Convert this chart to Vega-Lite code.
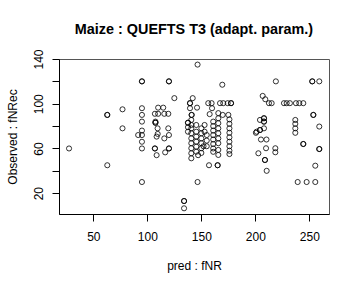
{
  "$schema": "https://vega.github.io/schema/vega-lite/v6.json",
  "width": 270,
  "height": 155,
  "autosize": "none",
  "padding": {"left": 59, "top": 59, "right": 31, "bottom": 74},
  "background": "white",
  "config": {
    "font": "Liberation Sans",
    "view": {"stroke": "#555555", "strokeWidth": 1},
    "axis": {
      "grid": false,
      "domainColor": "black",
      "tickColor": "black",
      "tickSize": 7,
      "labelColor": "black",
      "labelFontSize": 12,
      "titleColor": "black",
      "titleFontSize": 12,
      "titleFontWeight": "normal",
      "labelFont": "Liberation Sans",
      "titleFont": "Liberation Sans"
    }
  },
  "title": {
    "text": "Maize : QUEFTS T3 (adapt. param.)",
    "fontSize": 14.4,
    "fontWeight": "bold",
    "color": "black",
    "font": "Liberation Sans",
    "anchor": "middle",
    "frame": "group",
    "baseline": "alphabetic",
    "offset": 23,
    "dy": 22.5
  },
  "data": {
    "values": [
      {"pred": 27.5, "obs": 60},
      {"pred": 62.9, "obs": 90}, {"pred": 62.9, "obs": 90}, {"pred": 62.9, "obs": 45},
      {"pred": 77, "obs": 95}, {"pred": 77, "obs": 78},
      {"pred": 95, "obs": 120}, {"pred": 95, "obs": 120},
      {"pred": 95, "obs": 96}, {"pred": 95, "obs": 90}, {"pred": 95, "obs": 84}, {"pred": 95, "obs": 76},
      {"pred": 91.5, "obs": 72}, {"pred": 95, "obs": 72}, {"pred": 95, "obs": 66}, {"pred": 95, "obs": 60}, {"pred": 95, "obs": 30},
      {"pred": 110, "obs": 96.5}, {"pred": 114.7, "obs": 96.5},
      {"pred": 107, "obs": 91}, {"pred": 110, "obs": 91}, {"pred": 115.7, "obs": 91}, {"pred": 119.4, "obs": 91},
      {"pred": 107.5, "obs": 84}, {"pred": 107.5, "obs": 83}, {"pred": 107.5, "obs": 83},
      {"pred": 109.5, "obs": 78}, {"pred": 119.4, "obs": 78},
      {"pred": 109.6, "obs": 73}, {"pred": 120, "obs": 72}, {"pred": 115.7, "obs": 69}, {"pred": 108.6, "obs": 70.6},
      {"pred": 107, "obs": 60}, {"pred": 107, "obs": 60}, {"pred": 120, "obs": 60}, {"pred": 120, "obs": 60},
      {"pred": 108.6, "obs": 54}, {"pred": 116.5, "obs": 56.5},
      {"pred": 120, "obs": 120}, {"pred": 120, "obs": 120},
      {"pred": 125, "obs": 105},
      {"pred": 134, "obs": 13}, {"pred": 134, "obs": 13}, {"pred": 134, "obs": 6.5},
      {"pred": 146.5, "obs": 135}, {"pred": 146.5, "obs": 30},
      {"pred": 142, "obs": 105},
      {"pred": 139.5, "obs": 100.5}, {"pred": 139.5, "obs": 100.5},
      {"pred": 139.5, "obs": 96}, {"pred": 146, "obs": 96.5},
      {"pred": 141, "obs": 90}, {"pred": 141, "obs": 90},
      {"pred": 140.7, "obs": 85.5}, {"pred": 140.7, "obs": 81}, {"pred": 140.7, "obs": 78}, {"pred": 140.7, "obs": 73.6},
      {"pred": 140.7, "obs": 69}, {"pred": 140.7, "obs": 64.7}, {"pred": 140.7, "obs": 60.2}, {"pred": 140.7, "obs": 55.7}, {"pred": 140.7, "obs": 51.2},
      {"pred": 137.6, "obs": 83}, {"pred": 137.6, "obs": 83}, {"pred": 137.6, "obs": 79}, {"pred": 137.6, "obs": 75},
      {"pred": 145.3, "obs": 81}, {"pred": 145.3, "obs": 75}, {"pred": 145.3, "obs": 70.6}, {"pred": 145.3, "obs": 66.1},
      {"pred": 145.3, "obs": 61.6}, {"pred": 145.3, "obs": 57.1},
      {"pred": 150, "obs": 78}, {"pred": 150, "obs": 73.6}, {"pred": 150, "obs": 69}, {"pred": 150, "obs": 64.7}, {"pred": 150, "obs": 60.2},
      {"pred": 153, "obs": 81}, {"pred": 153, "obs": 75},
      {"pred": 155, "obs": 72}, {"pred": 155, "obs": 67}, {"pred": 152, "obs": 62}, {"pred": 155, "obs": 62},
      {"pred": 147, "obs": 54}, {"pred": 150, "obs": 56},
      {"pred": 156.4, "obs": 100.5}, {"pred": 159.5, "obs": 100.5},
      {"pred": 157.7, "obs": 90.7}, {"pred": 159.9, "obs": 96},
      {"pred": 161, "obs": 84}, {"pred": 161, "obs": 80}, {"pred": 161, "obs": 76}, {"pred": 161, "obs": 72},
      {"pred": 161, "obs": 68}, {"pred": 161, "obs": 64}, {"pred": 161, "obs": 60}, {"pred": 161, "obs": 57},
      {"pred": 165.7, "obs": 91.6}, {"pred": 165.7, "obs": 87}, {"pred": 165.7, "obs": 82.6}, {"pred": 165.7, "obs": 78},
      {"pred": 165.7, "obs": 73.6}, {"pred": 165.7, "obs": 69}, {"pred": 165.7, "obs": 64.7}, {"pred": 165.7, "obs": 58.7}, {"pred": 165.7, "obs": 54.2},
      {"pred": 176, "obs": 86}, {"pred": 176, "obs": 82}, {"pred": 176, "obs": 78}, {"pred": 176, "obs": 74},
      {"pred": 176, "obs": 70}, {"pred": 176, "obs": 66}, {"pred": 176, "obs": 62}, {"pred": 176, "obs": 58}, {"pred": 176, "obs": 55},
      {"pred": 167.3, "obs": 100.5}, {"pred": 170.3, "obs": 100.5}, {"pred": 174.4, "obs": 100.5}, {"pred": 177.5, "obs": 100.5}, {"pred": 177.5, "obs": 100.5},
      {"pred": 169.8, "obs": 90}, {"pred": 175, "obs": 90},
      {"pred": 169.4, "obs": 117},
      {"pred": 157.1, "obs": 45}, {"pred": 165.1, "obs": 45}, {"pred": 165.1, "obs": 45},
      {"pred": 204.3, "obs": 85.5}, {"pred": 208, "obs": 87}, {"pred": 208, "obs": 87}, {"pred": 208, "obs": 84}, {"pred": 208, "obs": 84},
      {"pred": 200.5, "obs": 74}, {"pred": 201.2, "obs": 75}, {"pred": 204.3, "obs": 76.5}, {"pred": 204.3, "obs": 76.5}, {"pred": 208, "obs": 78},
      {"pred": 206.8, "obs": 107}, {"pred": 209.2, "obs": 104}, {"pred": 212.6, "obs": 100.5}, {"pred": 215.1, "obs": 100.5},
      {"pred": 205.2, "obs": 68}, {"pred": 210.3, "obs": 68},
      {"pred": 209.9, "obs": 60.2}, {"pred": 218.5, "obs": 60.2}, {"pred": 218.5, "obs": 56.6},
      {"pred": 202.8, "obs": 55.7}, {"pred": 208.9, "obs": 49.7}, {"pred": 208.9, "obs": 49.7}, {"pred": 210.5, "obs": 40},
      {"pred": 219, "obs": 120},
      {"pred": 226.5, "obs": 100.5}, {"pred": 229, "obs": 100.5}, {"pred": 232, "obs": 100.5},
      {"pred": 237.6, "obs": 100.5}, {"pred": 240.7, "obs": 100.5}, {"pred": 244.4, "obs": 100.5},
      {"pred": 252.7, "obs": 120}, {"pred": 252.7, "obs": 120}, {"pred": 259.2, "obs": 120},
      {"pred": 237, "obs": 85.5}, {"pred": 237, "obs": 82}, {"pred": 237, "obs": 78}, {"pred": 237, "obs": 74},
      {"pred": 253.7, "obs": 90}, {"pred": 253.7, "obs": 90}, {"pred": 259.2, "obs": 79.6},
      {"pred": 244.4, "obs": 64}, {"pred": 244.4, "obs": 64}, {"pred": 259.2, "obs": 59.5}, {"pred": 259.2, "obs": 59.5},
      {"pred": 255.5, "obs": 44.6},
      {"pred": 239.2, "obs": 30}, {"pred": 247.5, "obs": 30}, {"pred": 255.5, "obs": 30}
    ]
  },
  "mark": {"type": "point", "shape": "circle", "filled": false, "size": 26, "stroke": "black", "strokeWidth": 0.8, "opacity": 1},
  "encoding": {
    "x": {
      "field": "pred", "type": "quantitative",
      "scale": {"domain": [18.2, 268.2], "nice": false, "zero": false},
      "axis": {
        "title": "pred : fNR",
        "values": [50, 100, 150, 200, 250],
        "labelPadding": 10,
        "titleY": 51,
        "titleBaseline": "middle",
        "labelFlush": false
      }
    },
    "y": {
      "field": "obs", "type": "quantitative",
      "scale": {"domain": [1.4, 140], "nice": false, "zero": false},
      "axis": {
        "title": "Observed : fNRec",
        "values": [20, 40, 60, 80, 100, 120, 140],
        "labelExpr": "datum.value % 40 == 20 ? datum.label : ''",
        "labelAngle": -90,
        "labelAlign": "center",
        "labelBaseline": "bottom",
        "labelPadding": 7,
        "labelFlush": false,
        "titleX": -47,
        "titleBaseline": "middle"
      }
    }
  }
}
